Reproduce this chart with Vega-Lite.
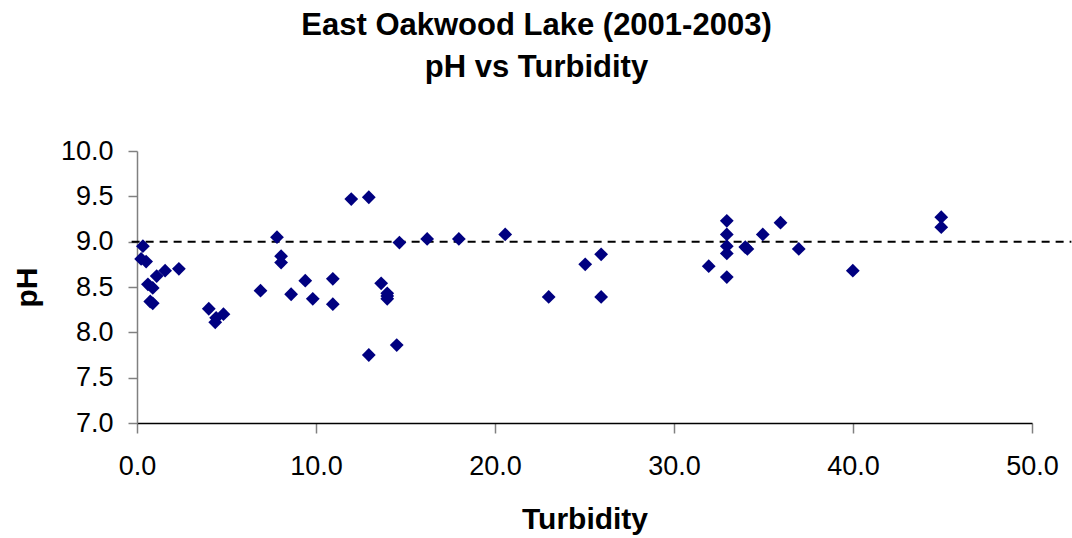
{
  "$schema": "https://vega.github.io/schema/vega-lite/v6.json",
  "width": 895,
  "height": 272,
  "autosize": {"type": "none"},
  "padding": {"left": 137, "top": 151, "right": 40, "bottom": 115},
  "background": "white",
  "config": {
    "view": {"stroke": null},
    "font": "Liberation Sans"
  },
  "title": {
    "text": ["East Oakwood Lake (2001-2003)", "pH vs Turbidity"],
    "font": "Liberation Sans",
    "fontSize": 31,
    "fontWeight": "bold",
    "color": "black",
    "lineHeight": 42,
    "anchor": "middle",
    "frame": "group",
    "dx": -48,
    "offset": 53
  },
  "datasets": {
    "points": [
      {"turbidity": 0.33, "ph": 8.95},
      {"turbidity": 0.23, "ph": 8.81},
      {"turbidity": 0.51, "ph": 8.78},
      {"turbidity": 0.61, "ph": 8.53},
      {"turbidity": 0.88, "ph": 8.49},
      {"turbidity": 0.74, "ph": 8.34},
      {"turbidity": 0.88, "ph": 8.32},
      {"turbidity": 1.1, "ph": 8.62},
      {"turbidity": 1.57, "ph": 8.68},
      {"turbidity": 2.34, "ph": 8.7},
      {"turbidity": 4.01, "ph": 8.26},
      {"turbidity": 4.37, "ph": 8.11},
      {"turbidity": 4.42, "ph": 8.16},
      {"turbidity": 4.83, "ph": 8.2},
      {"turbidity": 6.9, "ph": 8.46},
      {"turbidity": 7.82, "ph": 9.05},
      {"turbidity": 8.05, "ph": 8.84},
      {"turbidity": 8.05, "ph": 8.77},
      {"turbidity": 8.61, "ph": 8.42},
      {"turbidity": 9.4, "ph": 8.57},
      {"turbidity": 9.82, "ph": 8.37},
      {"turbidity": 10.94, "ph": 8.59},
      {"turbidity": 10.94, "ph": 8.31},
      {"turbidity": 11.97, "ph": 9.47},
      {"turbidity": 12.95, "ph": 9.49},
      {"turbidity": 12.95, "ph": 7.75},
      {"turbidity": 13.64, "ph": 8.54},
      {"turbidity": 13.98, "ph": 8.43},
      {"turbidity": 13.98, "ph": 8.4},
      {"turbidity": 13.98, "ph": 8.37},
      {"turbidity": 14.51, "ph": 7.86},
      {"turbidity": 14.66, "ph": 8.99},
      {"turbidity": 16.21, "ph": 9.03},
      {"turbidity": 17.98, "ph": 9.03},
      {"turbidity": 20.57, "ph": 9.08},
      {"turbidity": 23.0, "ph": 8.39},
      {"turbidity": 25.04, "ph": 8.75},
      {"turbidity": 25.93, "ph": 8.86},
      {"turbidity": 25.93, "ph": 8.39},
      {"turbidity": 31.94, "ph": 8.73},
      {"turbidity": 32.95, "ph": 9.23},
      {"turbidity": 32.95, "ph": 9.08},
      {"turbidity": 32.95, "ph": 8.95},
      {"turbidity": 32.95, "ph": 8.87},
      {"turbidity": 32.95, "ph": 8.61},
      {"turbidity": 33.98, "ph": 8.94},
      {"turbidity": 34.1, "ph": 8.92},
      {"turbidity": 34.96, "ph": 9.08},
      {"turbidity": 35.95, "ph": 9.21},
      {"turbidity": 36.97, "ph": 8.92},
      {"turbidity": 39.99, "ph": 8.68},
      {"turbidity": 44.93, "ph": 9.27},
      {"turbidity": 44.93, "ph": 9.16}
    ],
    "reference": [
      {"start": -0.3, "end": 52.2, "ph": 9.0}
    ]
  },
  "layer": [
    {
      "data": {"name": "reference"},
      "mark": {"type": "rule", "color": "black", "strokeWidth": 2, "strokeDash": [8, 6], "clip": false},
      "encoding": {
        "x": {"field": "start", "type": "quantitative", "scale": {"domain": [0, 50]}},
        "x2": {"field": "end"},
        "y": {"field": "ph", "type": "quantitative", "scale": {"domain": [7, 10]}}
      }
    },
    {
      "data": {"name": "points"},
      "mark": {"type": "point", "shape": "diamond", "filled": true, "size": 190, "color": "#000080", "opacity": 1},
      "encoding": {
        "x": {
          "field": "turbidity",
          "type": "quantitative",
          "title": "Turbidity",
          "scale": {"domain": [0, 50], "nice": false, "zero": false},
          "axis": {
            "values": [0, 10, 20, 30, 40, 50],
            "format": ".1f",
            "grid": false,
            "domainColor": "black",
            "domainWidth": 1.5,
            "tickColor": "#808080",
            "tickWidth": 1.5,
            "tickSize": 10,
            "labelFont": "Liberation Sans",
            "labelFontSize": 27,
            "labelColor": "black",
            "labelPadding": 20,
            "labelFlush": false,
            "titleFont": "Liberation Sans",
            "titleFontSize": 30,
            "titleFontWeight": "bold",
            "titleColor": "black",
            "titlePadding": 25
          }
        },
        "y": {
          "field": "ph",
          "type": "quantitative",
          "title": "pH",
          "scale": {"domain": [7, 10], "nice": false, "zero": false},
          "axis": {
            "values": [7, 7.5, 8, 8.5, 9, 9.5, 10],
            "format": ".1f",
            "grid": false,
            "domainColor": "#808080",
            "domainWidth": 1.5,
            "tickColor": "#808080",
            "tickWidth": 1.5,
            "tickSize": 9,
            "labelFont": "Liberation Sans",
            "labelFontSize": 27,
            "labelColor": "black",
            "labelPadding": 15,
            "labelFlush": false,
            "titleFont": "Liberation Sans",
            "titleFontSize": 30,
            "titleFontWeight": "bold",
            "titleColor": "black",
            "titlePadding": 18
          }
        }
      }
    }
  ]
}
